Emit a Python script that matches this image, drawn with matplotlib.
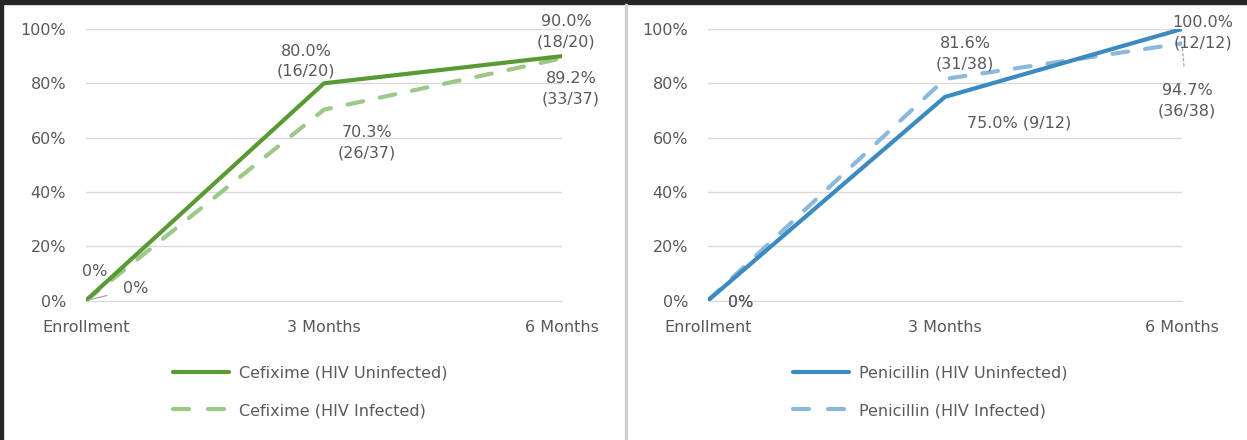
import matplotlib.pyplot as plt
import matplotlib.lines as mlines
import matplotlib.patches as mpatches
from matplotlib.ticker import PercentFormatter

plt.rcParams['font.family'] = ['DejaVu Sans']

# dane
visits = ["Enrollment", "3 Months", "6 Months"]

cef_uninf = [0.0, 80.0, 90.0]
cef_inf = [0.0, 70.3, 89.2]
cef_uninf_lab = ["0%", "80.0%\n(16/20)", "90.0%\n(18/20)"]
cef_inf_lab = ["0%", "70.3%\n(26/37)", "89.2%\n(33/37)"]

pen_uninf = [0.0, 75.0, 100.0]
pen_inf = [0.0, 81.6, 94.7]
pen_uninf_lab = ["0%", "75.0% (9/12)", "100.0%\n(12/12)"]
pen_inf_lab = ["0%", "81.6%\n(31/38)", "94.7%\n(36/38)"]

txt = "#595959"
grid = "#D9D9D9"
green = "#5A9A35"
green_l = "#9DC887"
blue = "#3B8AC0"
blue_l = "#8DB8DD"
FS = 11.5

W, H = 1247, 440
fig = plt.figure(figsize=(W / 100, H / 100), dpi=100)


def px_axes(x0, x1, y_top, y_bot):
    return fig.add_axes([x0 / W, 1 - y_bot / H, (x1 - x0) / W, (y_bot - y_top) / H])


def panel(ax, s1, s2, c1, c2):
    x = range(len(visits))
    ax.plot(x, s1, color=c1, lw=3, solid_capstyle='round', zorder=3)
    ax.plot(x, s2, color=c2, lw=3, dashes=(3.8, 4.1), dash_capstyle='round', zorder=2)
    ax.set_xlim(0, 2)
    ax.set_ylim(0, 100)
    ax.set_yticks([0, 20, 40, 60, 80, 100])
    ax.yaxis.set_major_formatter(PercentFormatter(decimals=0))
    ax.set_xticks(list(x))
    ax.set_xticklabels(visits)
    ax.grid(axis='y', color=grid, lw=1)
    ax.set_axisbelow(True)
    for s in ax.spines.values():
        s.set_visible(False)
    ax.spines['bottom'].set_visible(True)
    ax.spines['bottom'].set_color(grid)
    ax.tick_params(length=0, labelsize=FS, colors=txt)
    ax.tick_params(axis='y', pad=14.4)
    ax.tick_params(axis='x', pad=14)
    ax.patch.set_alpha(0)
    h1 = mlines.Line2D([], [], color=c1, lw=3, solid_capstyle='round')
    h2 = mlines.Line2D([], [], color=c2, lw=3, dashes=(3.84, 4.56), dash_capstyle='round')
    return h1, h2


def label(ax, x, y, s, dx, dy, leader=None):
    kw = dict(textcoords='offset pixels', ha='center', va='center', fontsize=FS,
              color=txt, linespacing=1.45, annotation_clip=False, zorder=5)
    if leader is not None:
        kw['arrowprops'] = dict(arrowstyle='-', color='#A6A6A6', lw=0.9,
                                linestyle=leader, shrinkA=10, shrinkB=2)
    ax.annotate(s, (x, y), xytext=(dx, dy), **kw)


def legend(handles, names, x0):
    fig.legend(handles, names, loc='upper left', bbox_to_anchor=(x0 / W, 1 - 359 / H),
               frameon=False, fontsize=FS, handlelength=3.5, handletextpad=0.6,
               labelspacing=1.42, labelcolor=txt, borderaxespad=0)


# lewy panel - cefiksym
ax1 = px_axes(86, 562, 29, 300.5)
h1, h2 = panel(ax1, cef_uninf, cef_inf, green, green_l)
label(ax1, 0, cef_uninf[0], cef_uninf_lab[0], 9, 29)
label(ax1, 0, cef_inf[0], cef_inf_lab[0], 50, 12, leader='-')
label(ax1, 1, cef_uninf[1], cef_uninf_lab[1], -18, 22)
label(ax1, 1, cef_inf[1], cef_inf_lab[1], 43, -33)
label(ax1, 2, cef_uninf[2], cef_uninf_lab[2], 4, 24)
label(ax1, 2, cef_inf[2], cef_inf_lab[2], 9, -30)
legend([h1, h2], ["Cefixime (HIV Uninfected)", "Cefixime (HIV Infected)"], 167)

# prawy panel - penicylina
ax2 = px_axes(708, 1182, 29, 300.5)
h3, h4 = panel(ax2, pen_uninf, pen_inf, blue, blue_l)
label(ax2, 0, pen_uninf[0], pen_uninf_lab[0], 33, -2)
label(ax2, 0, pen_inf[0], pen_inf_lab[0], 33, -2)
label(ax2, 1, pen_uninf[1], pen_uninf_lab[1], 74, -26)
label(ax2, 1, pen_inf[1], pen_inf_lab[1], 20, 25)
label(ax2, 2, pen_uninf[2], pen_uninf_lab[2], 21, -4)
label(ax2, 2, pen_inf[2], pen_inf_lab[2], 5, -57, leader=(0, (2, 2)))
legend([h3, h4], ["Penicillin (HIV Uninfected)", "Penicillin (HIV Infected)"], 787)

# ramki
fig.patches.append(mpatches.Rectangle((0, 0), 3 / W, 1, color='#262626',
                                      transform=fig.transFigure, figure=fig))
fig.patches.append(mpatches.Rectangle((0, 1 - 4 / H), 1, 4 / H, color='#262626',
                                      transform=fig.transFigure, figure=fig))
fig.patches.append(mpatches.Rectangle((625 / W, 0), 2 / W, 1 - 4 / H, color='#D0D0D0',
                                      transform=fig.transFigure, figure=fig))

fig.savefig("out.png", dpi=100)
